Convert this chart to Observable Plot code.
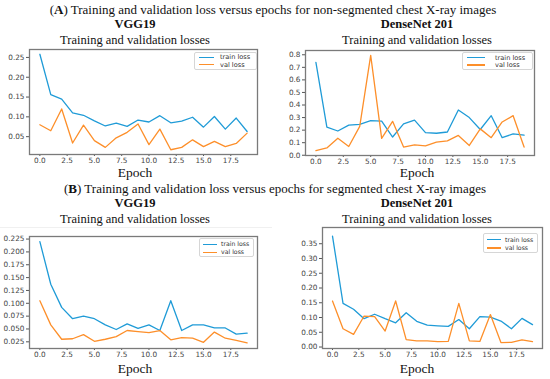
<!DOCTYPE html>
<html>
<head>
<meta charset="utf-8">
<script src="https://cdn.jsdelivr.net/npm/d3@7"></script>
<script src="https://cdn.jsdelivr.net/npm/@observablehq/plot@0.6"></script>
<style>
  html, body { margin: 0; padding: 0; background: #fff; }
  #root { position: relative; width: 550px; height: 379px; overflow: hidden; background: #fff; }
  .t { position: absolute; font-family: "Liberation Serif", "DejaVu Serif", serif; color: #111; white-space: nowrap; text-align: center; }
  .panel { position: absolute; }
  .legend { position: absolute; border: 1px solid #d6d6d6; border-radius: 2px; background: #fff; font-family: "DejaVu Sans", sans-serif; color: #333; }
  .legend .row { position: absolute; left: 0; height: 8px; line-height: 8px; white-space: nowrap; }
  .legend .sw { position: absolute; top: 3.5px; height: 1.4px; width: 15px; }
  .legend .lb { position: absolute; top: 0; white-space: nowrap; }
</style>
</head>
<body>
<div id="root"></div>
<script>
// ---------------- data ----------------
const epochs = [0,1,2,3,4,5,6,7,8,9,10,11,12,13,14,15,16,17,18,19];
const xTicks = [0, 2.5, 5, 7.5, 10, 12.5, 15, 17.5];

// (A) non-segmented, VGG19
const aVggTrain = [0.258,0.156,0.145,0.110,0.104,0.090,0.077,0.084,0.076,0.092,0.087,0.103,0.085,0.089,0.099,0.074,0.101,0.069,0.097,0.063];
const aVggVal   = [0.080,0.065,0.120,0.034,0.079,0.040,0.023,0.047,0.061,0.082,0.030,0.069,0.017,0.023,0.042,0.025,0.038,0.025,0.033,0.059];
const aVggYTicks = [0.05, 0.10, 0.15, 0.20, 0.25];

// (A) non-segmented, DenseNet 201
const aDenTrain = [0.740,0.224,0.193,0.240,0.246,0.275,0.272,0.145,0.250,0.280,0.180,0.175,0.185,0.360,0.300,0.205,0.315,0.140,0.170,0.160];
const aDenVal   = [0.037,0.058,0.135,0.070,0.230,0.795,0.135,0.270,0.065,0.083,0.075,0.104,0.115,0.158,0.078,0.210,0.140,0.265,0.315,0.065];
const aDenYTicks = [0.0, 0.1, 0.2, 0.3, 0.4, 0.5, 0.6, 0.7, 0.8];

// (B) segmented, VGG19
const bVggTrain = [0.220,0.137,0.092,0.070,0.075,0.070,0.058,0.049,0.060,0.051,0.058,0.047,0.105,0.047,0.058,0.058,0.052,0.052,0.040,0.042];
const bVggVal   = [0.105,0.058,0.030,0.031,0.039,0.026,0.030,0.035,0.047,0.045,0.043,0.047,0.029,0.033,0.032,0.024,0.044,0.032,0.028,0.023];
const bVggYTicks = [0.025, 0.050, 0.075, 0.100, 0.125, 0.150, 0.175, 0.200, 0.225];

// (B) segmented, DenseNet 201
const bDenTrain = [0.376,0.148,0.128,0.096,0.111,0.096,0.082,0.116,0.087,0.074,0.072,0.070,0.093,0.062,0.103,0.101,0.088,0.062,0.097,0.076];
const bDenVal   = [0.156,0.062,0.043,0.105,0.103,0.054,0.156,0.025,0.021,0.021,0.018,0.019,0.148,0.021,0.019,0.110,0.015,0.016,0.024,0.018];
const bDenYTicks = [0.00, 0.05, 0.10, 0.15, 0.20, 0.25, 0.30, 0.35];

const seriesNames = ["train loss", "val loss"];
const seriesColors = ["#1f9bd7", "#fd8f2a"];

// ---------------- layout helpers ----------------
const root = document.getElementById("root");

function text(str, {x, y, size, bold = false, html = false}) {
  const d = document.createElement("div");
  d.className = "t";
  d.style.left = (x - 300) + "px";
  d.style.width = "600px";
  d.style.top = (y - size / 2) + "px";
  d.style.fontSize = size + "px";
  d.style.lineHeight = size + "px";
  if (bold) d.style.fontWeight = "bold";
  if (html) d.innerHTML = str; else d.textContent = str;
  root.appendChild(d);
}

function panel(cfg) {
  const rows = [];
  epochs.forEach((e, i) => {
    rows.push({epoch: e, loss: cfg.train[i], series: seriesNames[0]});
  });
  epochs.forEach((e, i) => {
    rows.push({epoch: e, loss: cfg.val[i], series: seriesNames[1]});
  });
  const chart = Plot.plot({
    width: cfg.width,
    height: cfg.height,
    marginLeft: cfg.ml,
    marginRight: cfg.mr,
    marginTop: cfg.mt,
    marginBottom: cfg.mb,
    style: {fontFamily: "DejaVu Sans, sans-serif", fontSize: "7.3px", color: "#444", background: "transparent"},
    x: {domain: [-0.95, 19.95]},
    y: {domain: cfg.yDomain},
    color: {domain: seriesNames, range: seriesColors},
    marks: [
      Plot.axisX({ticks: xTicks, tickFormat: d3.format(".1f"), tickSize: 2, tickPadding: 1, label: null, stroke: "#555"}),
      Plot.axisY({ticks: cfg.yTicks, tickFormat: d3.format(cfg.yFmt), tickSize: 3, tickPadding: 2, label: null, stroke: "#555"}),
      Plot.line(rows, {x: "epoch", y: "loss", z: "series", stroke: "series", strokeWidth: 1.3}),
      Plot.frame({stroke: "#7a7a7a", strokeWidth: 1.3})
    ]
  });
  const wrap = document.createElement("div");
  wrap.className = "panel";
  wrap.style.left = cfg.left + "px";
  wrap.style.top = cfg.top + "px";
  wrap.appendChild(chart);
  root.appendChild(wrap);

  // legend
  const lg = document.createElement("div");
  lg.className = "legend";
  const L = cfg.legend;
  lg.style.left = L.x + "px";
  lg.style.top = L.y + "px";
  lg.style.width = L.w + "px";
  lg.style.height = L.h + "px";
  lg.style.fontSize = L.fs + "px";
  seriesNames.forEach((name, i) => {
    const r = document.createElement("div");
    r.className = "row";
    r.style.top = (L.pad + i * L.gap) + "px";
    r.style.width = L.w + "px";
    const sw = document.createElement("div");
    sw.className = "sw";
    sw.style.left = L.swx + "px";
    sw.style.width = L.sww + "px";
    sw.style.background = seriesColors[i];
    const lb = document.createElement("div");
    lb.className = "lb";
    lb.style.left = L.tx + "px";
    lb.textContent = name;
    r.appendChild(sw); r.appendChild(lb);
    lg.appendChild(r);
  });
  root.appendChild(lg);
}

// ---------------- titles ----------------
text("(<b>A</b>) Training and validation loss versus epochs for non-segmented chest X-ray images", {x: 273, y: 9, size: 13, html: true});
text("VGG19", {x: 135, y: 24.5, size: 12.5, bold: true});
text("Training and validation losses", {x: 135, y: 40, size: 12.5});
text("DenseNet 201", {x: 417, y: 24.5, size: 12.5, bold: true});
text("Training and validation losses", {x: 417, y: 40, size: 12.5});
text("Epoch", {x: 135, y: 172.5, size: 13.5});
text("Epoch", {x: 417, y: 172.5, size: 13.5});

text("(<b>B</b>) Training and validation loss versus epochs for segmented chest X-ray images", {x: 275, y: 188, size: 13, html: true});
text("VGG19", {x: 135, y: 203.5, size: 12.5, bold: true});
text("Training and validation losses", {x: 135, y: 219.5, size: 12.5});
text("DenseNet 201", {x: 417, y: 203.5, size: 12.5, bold: true});
text("Training and validation losses", {x: 417, y: 219.5, size: 12.5});
text("Epoch", {x: 135, y: 368.5, size: 13.5});
text("Epoch", {x: 417, y: 368.5, size: 13.5});

// faint separator seen in reference
const sep = document.createElement("div");
sep.style.cssText = "position:absolute;left:0;top:227px;width:272px;height:1px;background:#f0f0f0;";
root.appendChild(sep);

// ---------------- panels ----------------
panel({left: 0, top: 40, width: 265, height: 130, ml: 29, mr: 8, mt: 9, mb: 16,
  train: aVggTrain, val: aVggVal, yDomain: [0.005, 0.270], yTicks: aVggYTicks, yFmt: ".2f",
  legend: {x: 194, y: 52, w: 61, h: 16, pad: 0, gap: 7.6, swx: 4, sww: 15, tx: 25, fs: 6.6}});

panel({left: 275, top: 40, width: 265, height: 131, ml: 30, mr: 6, mt: 10, mb: 16,
  train: aDenTrain, val: aDenVal, yDomain: [-0.002, 0.834], yTicks: aDenYTicks, yFmt: ".1f",
  legend: {x: 462, y: 52, w: 69, h: 16, pad: 0.5, gap: 7.4, swx: 4, sww: 18, tx: 32, fs: 6.6}});

panel({left: 0, top: 226, width: 265, height: 138, ml: 29, mr: 8, mt: 10, mb: 16,
  train: bVggTrain, val: bVggVal, yDomain: [0.012, 0.230], yTicks: bVggYTicks, yFmt: ".3f",
  legend: {x: 199, y: 238, w: 53, h: 17, pad: 1, gap: 8, swx: 3, sww: 14, tx: 21, fs: 6.2}});

panel({left: 275, top: 217, width: 275, height: 147, ml: 47, mr: 8, mt: 10, mb: 16,
  train: bDenTrain, val: bDenVal, yDomain: [-0.005, 0.405], yTicks: bDenYTicks, yFmt: ".2f",
  legend: {x: 483, y: 233, w: 53, h: 18, pad: 1.5, gap: 8.4, swx: 3, sww: 14, tx: 21, fs: 6.2}});
</script>
</body>
</html>
